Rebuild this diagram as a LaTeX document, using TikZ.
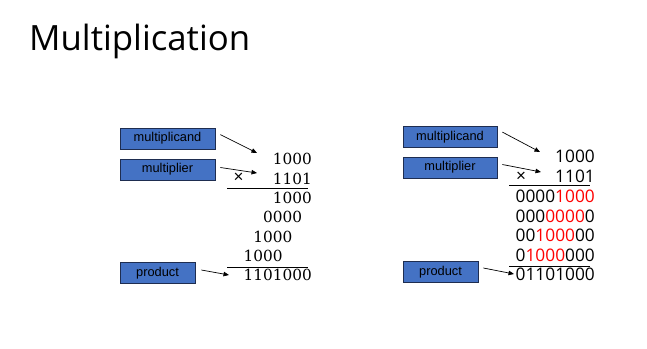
\documentclass[tikz,border=0pt]{standalone}
\usepackage{fontspec}
\usetikzlibrary{arrows.meta}
\newfontfamily\numserif{DejaVu Serif}
\newfontfamily\titlefont{Open Sans}
\newfontfamily\numsans{Open Sans}
\newfontfamily\labfont{Liberation Sans}
\definecolor{boxfill}{RGB}{68,114,196}
\definecolor{boxline}{RGB}{30,45,80}
\definecolor{redd}{RGB}{255,0,0}
\begin{document}
\begin{tikzpicture}[x=1pt,y=-1pt,
  lab/.style={draw=boxline,line width=0.8pt,fill=boxfill,minimum height=21pt,inner sep=0pt,
    font=\labfont\fontsize{12.8}{14}\selectfont,text=black},
  numL/.style={anchor=base east,inner sep=0pt,font=\numserif\fontsize{15.3}{18}\selectfont},
  numR/.style={anchor=base east,inner sep=0pt,font=\numsans\fontsize{17.3}{20}\selectfont},
  times/.style={anchor=center,inner sep=0pt,font=\labfont\fontsize{17}{18}\selectfont},
  arr/.style={line width=0.7pt,-{Triangle[length=5.5pt,width=4.5pt]}},
  rule/.style={line width=0.8pt}]
\useasboundingbox (0,0) rectangle (647,348);
\node[anchor=base west,inner sep=0pt,font=\titlefont\fontsize{34.8}{40}\selectfont] (title) at (29,50) {Multiplication};
% left
\node[lab,minimum width=95pt] (mcL) at (167.5,138.5) {multiplicand};
\node[lab,minimum width=95pt] (mpL) at (167.5,169.5) {multiplier};
\node[lab,minimum width=75pt] (prL) at (157.5,273) {product};
\node[numL] (aL) at (312,164) {1000};
\node[numL] (bL) at (312,184) {1101};
\node[times] (xL) at (238.5,178) {×};
\node[numL] (p1L) at (312,203) {1000};
\node[numL] (p2L) at (312,222) {0000\phantom{0}};
\node[numL] (p3L) at (312,242) {1000\phantom{00}};
\node[numL] (p4L) at (312,261) {1000\phantom{000}};
\node[numL] (rL) at (312,280) {1101000};
\coordinate (l1a) at (227,188); \coordinate (l1b) at (308,188);
\coordinate (l2a) at (227,267); \coordinate (l2b) at (308,267);
\draw[rule] (l1a) -- (l1b);
\draw[rule] (l2a) -- (l2b);
\coordinate (tA) at (257,153);
\coordinate (tB) at (257,173);
\coordinate (tC) at (229,275);
\draw[arr] ([shift={(5,7)}]mcL.north east) -- (tA);
\draw[arr] ([shift={(5,-2)}]mpL.east) -- (tB);
\draw[arr] ([shift={(6,-3)}]prL.east) -- (tC);
% right
\node[lab,minimum width=94pt] (mcR) at (450,137) {multiplicand};
\node[lab,minimum width=94pt] (mpR) at (450,167.5) {multiplier};
\node[lab,minimum width=75pt] (prR) at (440.5,272) {product};
\node[numR] (aR) at (595,162) {1000};
\node[numR] (bR) at (595,182) {1101};
\node[times] (xR) at (521,177) {×};
\node[numR] (p1R) at (595,202) {0000\textcolor{redd}{1000}};
\node[numR] (p2R) at (595,222) {000\textcolor{redd}{0000}0};
\node[numR] (p3R) at (595,241) {00\textcolor{redd}{1000}00};
\node[numR] (p4R) at (595,261) {0\textcolor{redd}{1000}000};
\node[numR] (rR) at (595,280) {01101000};
\coordinate (r1a) at (509,185); \coordinate (r1b) at (590,185);
\coordinate (r2a) at (509,266); \coordinate (r2b) at (590,266);
\draw[rule] (r1a) -- (r1b);
\draw[rule] (r2a) -- (r2b);
\coordinate (uA) at (540,152);
\coordinate (uB) at (541,172);
\coordinate (uC) at (514,274);
\draw[arr] ([shift={(5,6)}]mcR.north east) -- (uA);
\draw[arr] ([shift={(5,-3)}]mpR.east) -- (uB);
\draw[arr] ([shift={(5,-4)}]prR.east) -- (uC);
\end{tikzpicture}
\end{document}
